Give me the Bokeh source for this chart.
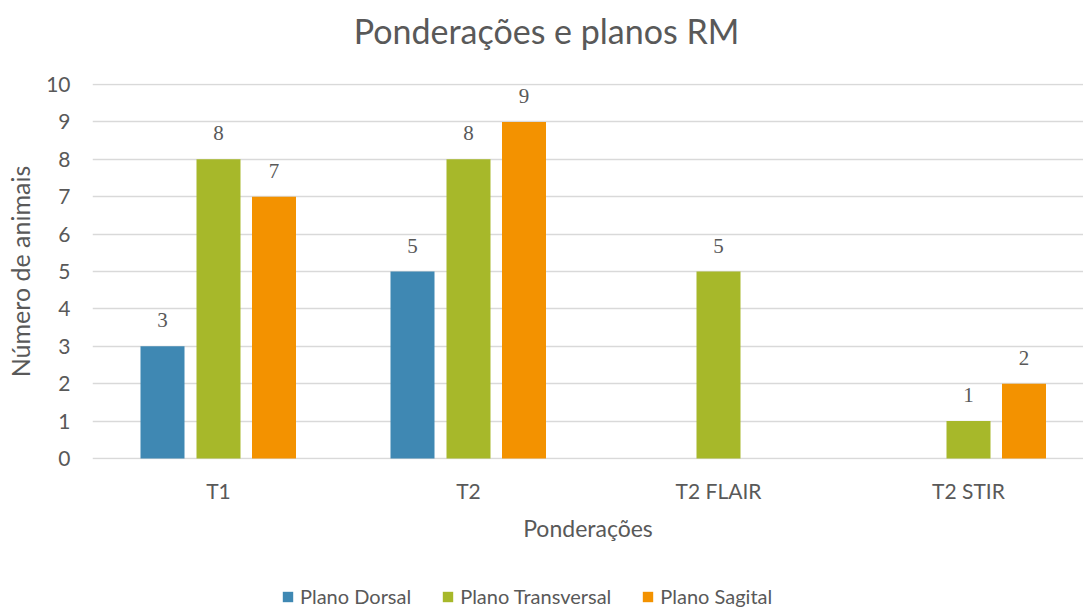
from bokeh.plotting import figure
from bokeh.layouts import column
from bokeh.models import (Range1d, FixedTicker, ColumnDataSource, LabelSet, Label,
                          Legend, LegendItem)
from bokeh.embed import file_html
from bokeh.resources import INLINE

categories = ["T1", "T2", "T2 FLAIR", "T2 STIR"]
series_names = ["Plano Dorsal", "Plano Transversal", "Plano Sagital"]
plano_dorsal = [3, 5, None, None]
plano_transversal = [8, 8, 5, 1]
plano_sagital = [7, 9, None, 2]
y_ticks = [0, 1, 2, 3, 4, 5, 6, 7, 8, 9, 10]
title_text = "Ponderações e planos RM"
x_title = "Ponderações"
y_title = "Número de animais"

colors = ["#3F88B3", "#A7B82A", "#F39200"]
offsets = [-0.224, 0.0, 0.222]
bar_w = 0.176
TXT = "#595959"
FONT = "Lato"
W = 1083


def bare_fig(h):
    f = figure(width=W, height=h, output_backend="svg", toolbar_location=None,
               x_axis_type=None, y_axis_type=None, x_range=Range1d(0, 1),
               y_range=Range1d(0, 1), min_border=0)
    f.outline_line_color = None
    f.xgrid.visible = False
    f.ygrid.visible = False
    return f


# ---- title strip
top = bare_fig(70)
top.add_layout(Label(x=454, y=40, x_units="screen", y_units="screen",
                     text=title_text, text_align="center", text_baseline="alphabetic",
                     text_color=TXT, text_font=FONT, text_font_size="34px"))

# ---- main chart
p = figure(width=W, height=496, output_backend="svg", toolbar_location=None,
           x_range=Range1d(-0.004, 3.96), y_range=Range1d(-0.03, 10.03),
           min_border_left=92, min_border_right=0, min_border_top=13,
           min_border_bottom=107)
p.outline_line_color = None

p.xaxis.ticker = FixedTicker(ticks=[i + 0.5 for i in range(len(categories))])
p.xaxis.major_label_overrides = {i + 0.5: c for i, c in enumerate(categories)}
p.yaxis.ticker = FixedTicker(ticks=y_ticks)
for ax in (p.xaxis[0], p.yaxis[0]):
    ax.axis_line_color = None
    ax.major_tick_line_color = None
    ax.minor_tick_line_color = None
    ax.major_label_text_color = TXT
    ax.major_label_text_font = FONT
    ax.major_label_text_font_size = "21px"
    ax.axis_label_text_font = FONT
    ax.axis_label_text_font_style = "normal"
    ax.axis_label_text_color = TXT
p.xaxis.major_label_standoff = 12
p.yaxis.major_label_standoff = 16
p.yaxis.axis_label = y_title
p.yaxis.axis_label_text_font_size = "25px"
p.yaxis.axis_label_standoff = 8
p.xaxis.axis_label = x_title
p.xaxis.axis_label_text_font_size = "23px"
p.xaxis.axis_label_standoff = 8

p.xgrid.grid_line_color = None
p.ygrid.ticker = FixedTicker(ticks=y_ticks)
p.ygrid.grid_line_color = "#D9D9D9"
p.ygrid.grid_line_width = 1.5

# ---- legend strip
leg = bare_fig(42)
legend_items = []
for name, vals, col, off in zip(series_names,
                                [plano_dorsal, plano_transversal, plano_sagital],
                                colors, offsets):
    xs, tops = [], []
    for i, v in enumerate(vals):
        if v is not None:
            xs.append(i + 0.5 + off)
            tops.append(v)
    src = ColumnDataSource(dict(x=xs, top=tops, lab=[str(t) for t in tops]))
    p.vbar(x="x", top="top", bottom=0, width=bar_w, source=src,
           fill_color=col, line_color=None)
    p.add_layout(LabelSet(x="x", y="top", text="lab", source=src, y_offset=26,
                          text_align="center", text_baseline="middle",
                          text_color=TXT, text_font=FONT, text_font_size="21px"))
    # legend key renderer, placed outside the strip's visible range
    r = leg.vbar(x=[5], top=[1], width=0.1, fill_color=col, line_color=None)
    legend_items.append(LegendItem(label=name, renderers=[r]))

legend = Legend(items=legend_items, orientation="horizontal", location=(189, 0),
                glyph_width=13, glyph_height=13, label_standoff=6, spacing=30,
                label_text_font=FONT, label_text_font_size="20px",
                label_text_color=TXT, border_line_color=None,
                background_fill_alpha=0, padding=0, margin=0)
leg.add_layout(legend, "center")

layout = column(top, p, leg, spacing=0)
open("out.html", "w").write(file_html(layout, INLINE))
